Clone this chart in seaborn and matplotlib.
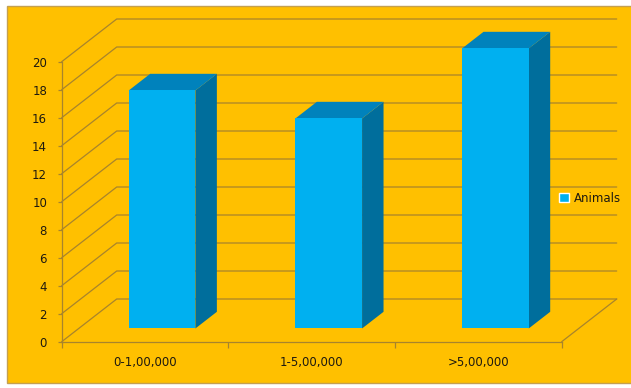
import matplotlib
matplotlib.use("Agg")
import matplotlib.pyplot as plt
import matplotlib.transforms as mtrans
from matplotlib.patches import Polygon, Rectangle
import seaborn as sns
import pandas as pd

# ---- data ----
categories = ["0-1,00,000", "1-5,00,000", ">5,00,000"]
values = [17, 15, 20]
series = ["Animals", "Animals", "Animals"]
yticks = list(range(0, 21, 2))

# ---- style ----
ORANGE = "#FFC000"
FRONT = "#00B0F0"
TOP = "#0082BC"
SIDE = "#006E9C"
GRID = "#A8842C"
TEXT = "#1E1A10"

sns.set_theme(style="white")
plt.rcParams["font.family"] = ["DejaVu Sans"]

fig = plt.figure(figsize=(6.31, 3.88), dpi=100)
fig.patch.set_facecolor("white")
bg = Rectangle((7 / 631, 5 / 388), 1.0, 377 / 388, transform=fig.transFigure,
               facecolor=ORANGE, edgecolor="#C4A050", lw=1.0, zorder=-10)
fig.patches.append(bg)

ax = fig.add_axes([61.7 / 631, (388 - 341.7) / 388, 500 / 631, 280 / 388])
ax.set_zorder(1)
ax.patch.set_alpha(0)

df = pd.DataFrame({"Range": categories, "Count": values, "Series": series})
sns.barplot(data=df, x="Range", y="Count", hue="Series", palette=[FRONT], width=0.4,
            dodge=False, saturation=1, ax=ax, legend=True, zorder=3)
ax.set_xlim(-0.5, 2.5)
ax.set_ylim(0, 20)

# oblique depth (data units)
DX, DY = 0.33, 3.05          # full depth of floor / walls
FX, FY = 0.31 * DX, 0.31 * DY  # bar front plane
SX, SY = 0.39 * DX, 0.39 * DY  # bar depth

# gridlines on left and back walls
for v in yticks:
    ax.plot([-0.5, -0.5 + DX, 2.5 + DX], [v, v + DY, v + DY], color=GRID, lw=0.9,
            clip_on=False, zorder=1)
# floor right edge
ax.plot([2.5, 2.5 + DX], [0, DY], color=GRID, lw=0.9, clip_on=False, zorder=1)

# bars: shift front faces and add top / side faces
shift = mtrans.Affine2D().translate(FX, FY) + ax.transData
for p in list(ax.patches):
    x0, w, h = p.get_x(), p.get_width(), p.get_height()
    p.set_transform(shift)
    p.set_clip_on(False)
    p.set_edgecolor("none")
    p.set_zorder(5)
    side = Polygon([(x0 + w, 0), (x0 + w + SX, SY), (x0 + w + SX, h + SY), (x0 + w, h)],
                   closed=True, facecolor=SIDE, edgecolor="none", transform=shift,
                   clip_on=False, zorder=4)
    top = Polygon([(x0, h), (x0 + SX, h + SY), (x0 + w + SX, h + SY), (x0 + w, h)],
                  closed=True, facecolor=TOP, edgecolor="none", transform=shift,
                  clip_on=False, zorder=4)
    ax.add_patch(side)
    ax.add_patch(top)

# axes styling
for s in ["top", "right"]:
    ax.spines[s].set_visible(False)
for s in ["left", "bottom"]:
    ax.spines[s].set_color(GRID)
    ax.spines[s].set_linewidth(0.9)
    ax.spines[s].set_zorder(2)

ax.set_yticks(yticks)
ax.set_yticklabels([str(v) for v in yticks])
ax.set_xticks([0, 1, 2])
ax.set_xticklabels(categories)
ax.set_xticks([-0.5, 0.5, 1.5, 2.5], minor=True)
ax.tick_params(axis="y", which="major", direction="out", length=3, width=0.9, color=GRID,
               left=True, pad=7.5, labelsize=8.5, labelcolor=TEXT)
ax.tick_params(axis="x", which="major", length=0, pad=10, labelsize=8.5, labelcolor=TEXT)
ax.tick_params(axis="x", which="minor", direction="out", length=4, width=0.9, color=GRID,
               bottom=True)
ax.set_xlabel("")
ax.set_ylabel("")

sns.move_legend(ax, loc="center left", bbox_to_anchor=(559 / 631, 1 - 198 / 388),
                bbox_transform=fig.transFigure, frameon=False, title=None,
                handlelength=0.85, handleheight=0.85, handletextpad=0.45, fontsize=8.5,
                borderaxespad=0, borderpad=0)
for t in ax.get_legend().get_texts():
    t.set_color(TEXT)

fig.savefig("out.png", dpi=100, facecolor=fig.get_facecolor())
